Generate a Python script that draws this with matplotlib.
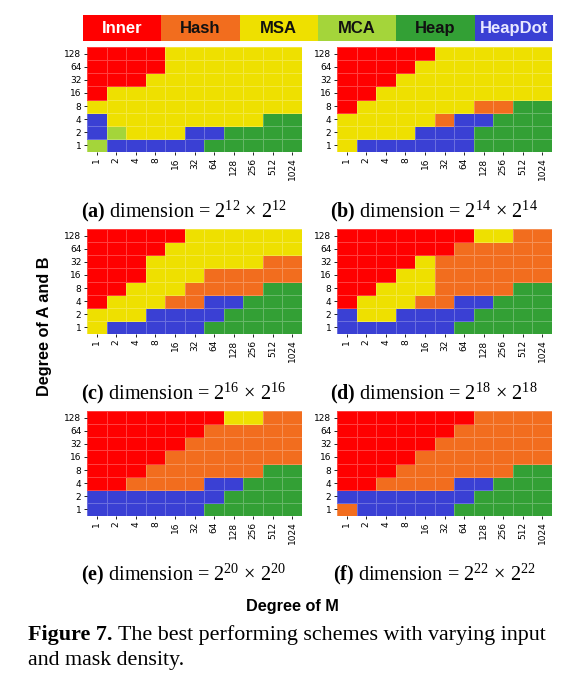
import numpy as np
import matplotlib
matplotlib.use("Agg")
import matplotlib.pyplot as plt
from matplotlib.colors import ListedColormap

# schemes and their colours
schemes = ["Inner", "Hash", "MSA", "MCA", "Heap", "HeapDot"]
scheme_colors = ["#ff0000", "#f26d1e", "#eee000", "#a4d53a", "#33a035", "#3a40d4"]
label_colors = ["white", "#111111", "#111111", "#111111", "#111111", "#e8e8ff"]
letters = {"I": 0, "H": 1, "S": 2, "C": 3, "P": 4, "D": 5}

x_labels = ["1", "2", "4", "8", "16", "32", "64", "128", "256", "512", "1024"]
y_labels = ["128", "64", "32", "16", "8", "4", "2", "1"]   # top -> bottom

# best scheme per cell, rows from degree 128 (top) down to 1
# I=Inner H=Hash S=MSA C=MCA P=Heap D=HeapDot
grid_a = ["IIIISSSSSSS",
          "IIIISSSSSSS",
          "IIISSSSSSSS",
          "ISSSSSSSSSS",
          "SSSSSSSSSSS",
          "DSSSSSSSSPP",
          "DCSSSDDPPPP",
          "CDDDDDPPPPP"]
grid_b = ["IIIIISSSSSS",
          "IIIISSSSSSS",
          "IIISSSSSSSS",
          "IISSSSSSSSS",
          "ISSSSSSHHPP",
          "SSSSSHDDPPP",
          "SSSSDDDPPPP",
          "SDDDDDDPPPP"]
grid_c = ["IIIIISSSSSS",
          "IIIISSSSSSS",
          "IIISSSSSSHH",
          "IIISSSHHHHH",
          "IISSSHHHHPP",
          "ISSSHHDDPPP",
          "SSSDDDDPPPP",
          "SDDDDDPPPPP"]
grid_d = ["IIIIIIISSHH",
          "IIIIIIHHHHH",
          "IIIISHHHHHH",
          "IIISSHHHHHH",
          "IISSSHHHHPP",
          "ISSSHHDDPPP",
          "DSSDDDDPPPP",
          "DDDDDDPPPPP"]
grid_e = ["IIIIIIISSHH",
          "IIIIIIHHHHH",
          "IIIIIHHHHHH",
          "IIIIHHHHHHH",
          "IIIHHHHHHPP",
          "IIHHHHDDPPP",
          "DDDDDDDPPPP",
          "DDDDDDPPPPP"]
grid_f = ["IIIIIIIHHHH",
          "IIIIIIHHHHH",
          "IIIIIHHHHHH",
          "IIIIHHHHHHH",
          "IIIHHHHHHPP",
          "IIHHHHDDPPP",
          "DDDDDDDPPPP",
          "HDDDDDPPPPP"]

panels = [("a", 12, grid_a), ("b", 14, grid_b), ("c", 16, grid_c),
          ("d", 18, grid_d), ("e", 20, grid_e), ("f", 22, grid_f)]

serif = "Liberation Serif"
sans = "Liberation Sans"
plt.rcParams["mathtext.fontset"] = "custom"
plt.rcParams["mathtext.rm"] = serif
plt.rcParams["mathtext.it"] = serif + ":italic"
plt.rcParams["mathtext.bf"] = serif + ":bold"

W, H = 587, 680
fig = plt.figure(figsize=(W / 100, H / 100), dpi=100)
cmap = ListedColormap(scheme_colors)


def px_axes(x0, y0, x1, y1):
    return fig.add_axes([x0 / W, 1 - y1 / H, (x1 - x0) / W, (y1 - y0) / H])


# legend bar
lax = px_axes(83, 15, 553, 41)
lax.pcolormesh(np.arange(len(schemes))[None, :], cmap=cmap, vmin=-0.5, vmax=5.5)
for i, name in enumerate(schemes):
    lax.text(i + 0.5, 0.47, name, ha="center", va="center", fontsize=12,
             fontweight="bold", color=label_colors[i], family=sans)
lax.set_xlim(0, len(schemes))
lax.set_ylim(0, 1)
lax.axis("off")

col_x = [87, 337]
row_y = [47, 229, 411]
cap_y = [211, 393, 574]
cap_x = [184, 434]

for k, (tag, p, grid) in enumerate(panels):
    r, c = divmod(k, 2)
    ax = px_axes(col_x[c], row_y[r], col_x[c] + 215, row_y[r] + 105)
    data = np.array([[letters[ch] for ch in row] for row in grid])[::-1]
    ax.pcolormesh(data, cmap=cmap, vmin=-0.5, vmax=5.5,
                  edgecolors=(1, 1, 1, 0.25), linewidth=0.6)
    ax.set_xticks(np.arange(len(x_labels)) + 0.5)
    ax.set_xticklabels(x_labels, rotation=90, fontsize=6.5)
    ax.set_yticks(np.arange(len(y_labels)) + 0.5)
    ax.set_yticklabels(y_labels[::-1], fontsize=6.5)
    ax.tick_params(length=2.5, width=0.6, pad=1.5)
    for s in ax.spines.values():
        s.set_visible(False)
    fig.text(cap_x[c] / W, 1 - cap_y[r] / H,
             r"$\mathbf{(%s)}$ dimension = $2^{%d}\,\times\,2^{%d}$" % (tag, p, p),
             ha="center", va="center", fontsize=14.5, family=serif)

fig.text(292 / W, 1 - 606 / H, "Degree of M", ha="center", va="center",
         fontsize=11.7, fontweight="bold", family=sans)
fig.text(45 / W, 1 - 326 / H, "Degree of A and B", ha="center", va="center",
         rotation=90, fontsize=11.7, fontweight="bold", family=sans)

# figure caption, second part placed right after the bold label
cap1 = fig.text(28 / W, 1 - 635 / H, "Figure 7.", ha="left", va="center",
                fontsize=15.8, fontweight="bold", family=serif)
fig.canvas.draw()
bb = cap1.get_window_extent()
fig.text((bb.x1 + 5) / W, 1 - 635 / H,
         "The best performing schemes with varying input",
         ha="left", va="center", fontsize=15.8, family=serif)
fig.text(28 / W, 1 - 661 / H, "and mask density.", ha="left", va="center",
         fontsize=15.8, family=serif)

fig.savefig("out.png", dpi=100)
